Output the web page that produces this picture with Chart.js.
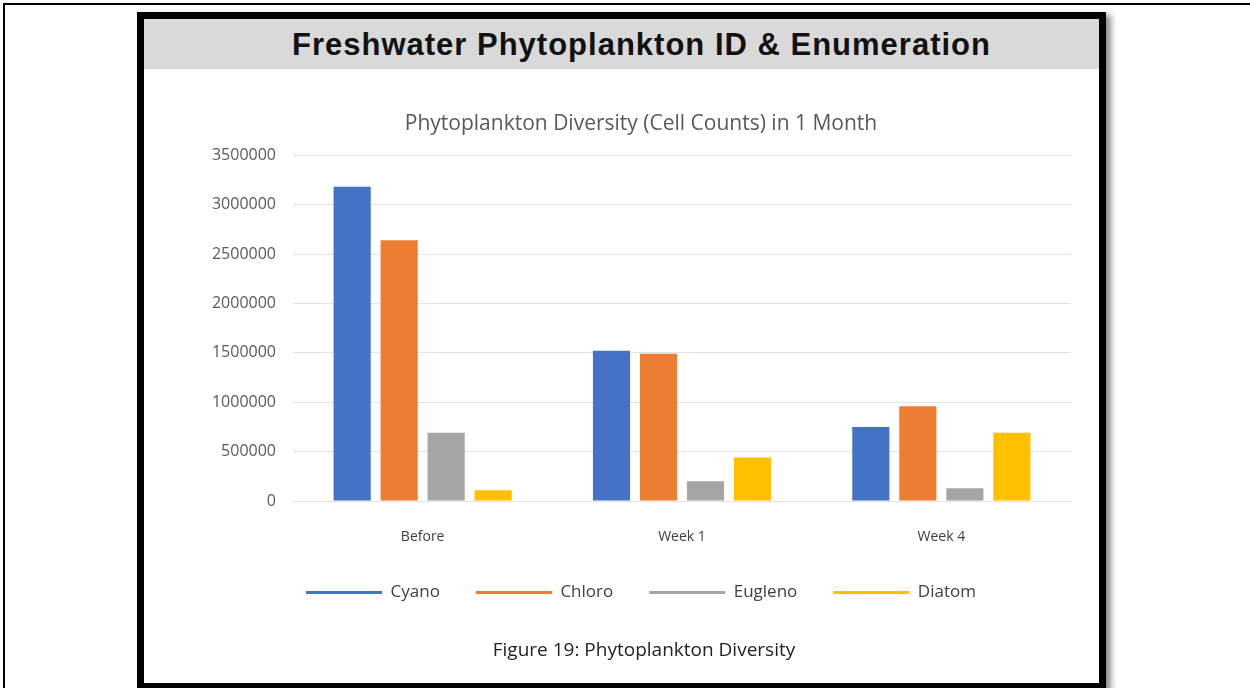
<!DOCTYPE html>
<html>
<head>
<meta charset="utf-8">
<script src="https://cdn.jsdelivr.net/npm/chart.js@4.4.1/dist/chart.umd.min.js"></script>
<style>
  body { margin: 0; background: #fff; width: 1250px; height: 688px; overflow: hidden; position: relative; }
  #page { position: absolute; left: 3px; top: 3px; width: 1260px; height: 700px; border-left: 2px solid #000; border-top: 2px solid #000; }
  #frame { position: absolute; left: 137px; top: 12px; width: 955px; height: 664px; border: 7px solid #000; background: #fff; box-shadow: 5px 3px 6px rgba(0,0,0,0.45); }
  #header { position: absolute; left: 0; top: 0; width: 955px; height: 50px; background: #d9d9d9; }
  #header div { position: absolute; left: 0; width: 995px; top: 8px; text-align: center; font: bold 31px "Liberation Sans", Arial, sans-serif; letter-spacing: 1px; color: #111; }
  #wrap { position: absolute; left: 40px; top: 50px; width: 914px; height: 614px; }
  #caption { position: absolute; left: 0; width: 1000px; top: 617px; text-align: center; font: 19px "Open Sans", sans-serif; color: #222; }
</style>
</head>
<body>
<div id="page"></div>
<div id="frame">
  <div id="header"><div>Freshwater Phytoplankton ID &amp; Enumeration</div></div>
  <div id="wrap"><canvas id="canvas"></canvas></div>
  <div id="caption">Figure 19: Phytoplankton Diversity</div>
</div>
<script>
  const labels = ['Before', 'Week 1', 'Week 4'];
  const cyanoData = [3180000, 1520000, 750000];
  const chloroData = [2640000, 1490000, 960000];
  const euglenoData = [690000, 200000, 130000];
  const diatomData = [110000, 440000, 690000];
  const yTicks = [0, 500000, 1000000, 1500000, 2000000, 2500000, 3000000, 3500000];

  function bar(label, color, values) {
    return {
      label: label,
      backgroundColor: color,
      borderWidth: 0,
      data: values,
      categoryPercentage: 0.725,
      barPercentage: 0.79,
    };
  }

  const data = {
    labels: labels,
    datasets: [
      bar('Cyano', '#4472C4', cyanoData),
      bar('Chloro', '#ED7D31', chloroData),
      bar('Eugleno', '#A5A5A5', euglenoData),
      bar('Diatom', '#FFC000', diatomData),
    ],
  };

  const options = {
    responsive: false,
    animation: false,
    layout: { padding: { left: 27, right: 27, top: 0, bottom: 72 } },
    plugins: {
      title: {
        display: true,
        text: 'Phytoplankton Diversity (Cell Counts) in 1 Month',
        color: '#595959',
        font: { family: 'Open Sans', size: 21, weight: 'normal' },
        padding: { top: 42, bottom: 19 },
      },
      legend: {
        position: 'bottom',
        labels: {
          boxWidth: 76,
          boxHeight: 3,
          padding: 36,
          color: '#404040',
          font: { family: 'Open Sans', size: 17 },
        },
      },
      tooltip: { enabled: false },
    },
    scales: {
      x: {
        grid: { display: false, drawTicks: false },
        border: { display: false },
        ticks: { color: '#404040', padding: 28, font: { family: 'Open Sans', size: 14 } },
        afterFit: function (scale) { scale.height = 47; },
      },
      y: {
        min: 0,
        max: 3500000,
        grid: { color: '#e3e3e3', drawTicks: false },
        border: { display: false },
        afterBuildTicks: function (scale) { scale.ticks = yTicks.map(function (v) { return { value: v }; }); },
        ticks: {
          color: '#595959',
          padding: 17,
          font: { family: 'Open Sans', size: 16 },
          callback: function (value) { return String(value); },
        },
        afterFit: function (scale) { scale.width = 82; },
      },
    },
  };

  const canvas = document.getElementById('canvas');
  canvas.width = 914;
  canvas.height = 614;
  const chart = new Chart(canvas, {
    type: 'bar',
    data: data,
    options: options,
  });
</script>
</body>
</html>
